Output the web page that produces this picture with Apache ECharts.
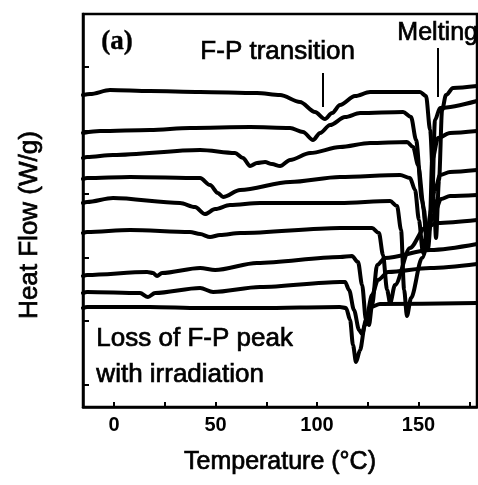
<!DOCTYPE html>
<html>
<head>
<meta charset="utf-8">
<title>DSC heat flow</title>
<script src="https://cdn.jsdelivr.net/npm/echarts@6/dist/echarts.min.js"></script>
<style>
  html, body { margin: 0; padding: 0; background: #fff; }
  #chart { width: 478px; height: 485px; }
</style>
</head>
<body>
<div id="chart"></div>
<script>
// DSC traces, [temperature (°C), heat flow (arb. W/g offset)], top to bottom
var curve1 = [[-15.3, 4.913], [-11.8, 4.929], [-2.0, 4.992], [17.7, 4.976], [42.4, 4.961], [70.4, 4.945],
  [81.8, 4.913], [91.6, 4.803], [99.0, 4.646], [103.9, 4.535], [107.4, 4.630], [111.3, 4.756], [118.7, 4.898],
  [126.1, 4.961], [150.7, 4.961], [153.7, 4.898], [155.7, 4.362], [157.6, 3.260], [158.6, 2.661],
  [160.1, 3.575], [161.6, 4.677], [163.5, 4.913], [167.0, 5.024], [178.8, 5.055]];
var curve2 = [[-15.3, 4.315], [-6.9, 4.346], [17.7, 4.362], [37.4, 4.394], [67.0, 4.409], [86.7, 4.394],
  [93.1, 4.331], [98.0, 4.205], [101.5, 4.315], [106.4, 4.441], [113.8, 4.567], [121.2, 4.630], [142.4, 4.646],
  [146.3, 4.567], [148.8, 4.205], [151.7, 3.260], [154.7, 2.504], [156.7, 3.260], [158.1, 4.520],
  [160.6, 4.709], [178.8, 4.819]];
var curve3 = [[-15.3, 3.921], [-13.3, 3.937], [-0.5, 3.969], [42.4, 4.047], [59.6, 4.000], [63.5, 3.921],
  [67.0, 3.795], [70.4, 3.843], [74.4, 3.858], [77.8, 3.827], [81.8, 3.795], [86.7, 3.890], [96.6, 4.000],
  [111.3, 4.094], [126.1, 4.157], [144.3, 4.173], [147.3, 4.094], [149.8, 3.811], [152.7, 3.102],
  [154.2, 2.472], [155.7, 3.024], [156.7, 3.890], [159.6, 4.236], [165.5, 4.315], [178.8, 4.346]];
var curve4 = [[-15.3, 3.591], [-13.3, 3.606], [7.9, 3.622], [42.4, 3.606], [47.3, 3.496], [51.2, 3.370],
  [53.7, 3.307], [62.1, 3.417], [86.7, 3.543], [111.3, 3.622], [140.9, 3.654], [145.8, 3.606], [148.3, 3.417],
  [150.2, 2.945], [152.2, 2.425], [154.2, 2.787], [158.1, 3.417], [160.6, 3.654], [165.5, 3.701], [178.8, 3.732]];
var curve5 = [[-15.3, 3.213], [-13.3, 3.228], [-0.5, 3.291], [32.5, 3.213], [39.9, 3.150], [44.8, 3.039],
  [49.8, 3.118], [57.1, 3.181], [71.9, 3.213], [111.3, 3.213], [136.0, 3.244], [139.4, 3.165], [141.4, 2.787],
  [142.9, 1.843], [144.3, 1.433], [146.3, 1.717], [151.7, 2.346], [157.6, 3.024], [161.1, 3.276],
  [165.5, 3.323], [178.8, 3.339]];
var curve6 = [[-15.3, 2.740], [-13.3, 2.756], [7.9, 2.787], [37.4, 2.756], [42.4, 2.724], [47.3, 2.677],
  [52.2, 2.709], [62.1, 2.740], [111.3, 2.819], [127.1, 2.819], [130.5, 2.740], [132.5, 2.394], [134.5, 1.843],
  [136.0, 1.638], [138.4, 1.921], [145.8, 2.504], [153.2, 2.819], [159.1, 2.898], [178.8, 2.945]];
var curve7 = [[-15.3, 2.063], [-13.3, 2.079], [16.3, 2.126], [19.2, 2.110], [21.2, 2.063], [23.6, 2.110],
  [42.4, 2.189], [49.8, 2.157], [70.4, 2.268], [111.3, 2.362], [117.2, 2.378], [120.2, 2.283], [122.2, 1.921],
  [124.1, 1.370], [125.6, 1.291], [127.1, 1.606], [129.6, 2.236], [133.5, 2.346], [155.7, 2.472], [178.8, 2.567]];
var curve8 = [[-15.3, 1.795], [-13.3, 1.811], [12.8, 1.795], [16.7, 1.732], [20.2, 1.795], [42.4, 1.874],
  [48.8, 1.811], [71.9, 1.890], [111.3, 1.969], [113.8, 1.969], [115.8, 1.843], [118.2, 1.528], [120.7, 1.213],
  [122.2, 1.150], [124.1, 1.370], [127.1, 1.764], [130.0, 2.000], [135.0, 2.126], [155.7, 2.189], [178.8, 2.252]];
var curve9 = [[-15.3, 1.559], [-13.3, 1.575], [17.7, 1.575], [42.4, 1.559], [71.9, 1.559], [111.3, 1.575],
  [114.3, 1.559], [116.3, 1.370], [117.7, 0.976], [119.2, 0.709], [121.2, 0.898], [123.6, 1.291], [126.6, 1.575],
  [131.0, 1.622], [178.8, 1.638]];

var curves = [curve1, curve2, curve3, curve4, curve5, curve6, curve7, curve8, curve9];

// axis ticks
var tempTicks = [0, 25, 50, 75, 100, 125, 150, 175];
var tempLabels = [0, 50, 100, 150];
var flowTicks = [0.354, 1.354, 2.354, 3.354, 4.354, 5.354];

// annotation arrows [[T, H], [T, H]]
var fpArrow = [[103.0, 5.260], [103.0, 4.724]];
var meltArrow = [[159.6, 5.654], [159.6, 4.882]];

var FONT = '"Liberation Sans", Arial, sans-serif';

// scanned look: slightly heavier glyphs
var ink = { fill: '#000', stroke: '#000', lineWidth: 0.7 };

var chart = echarts.init(document.getElementById('chart'), null, { renderer: 'canvas' });

var series = curves.map(function (c, i) {
    var s = {
        type: 'line',
        data: c,
        showSymbol: false,
        smooth: 0.3,
        smoothMonotone: 'x',
        silent: true,
        animation: false,
        lineStyle: { color: '#000', width: 4, cap: 'round', join: 'round' }
    };
    if (i === 0) {
        s.markLine = {
            silent: true,
            symbol: 'none',
            animation: false,
            label: { show: false },
            lineStyle: { color: '#000', width: 2, type: 'solid' },
            data: [
                [{ coord: fpArrow[0] }, { coord: fpArrow[1] }],
                [{ coord: meltArrow[0] }, { coord: meltArrow[1] }]
            ]
        };
    }
    return s;
});

var txt = function (text, font, extra) {
    return echarts.util.extend({ text: text, font: font }, echarts.util.extend(echarts.util.extend({}, ink), extra || {}));
};

chart.setOption({
    animation: false,
    backgroundColor: '#fff',
    grid: {
        left: 83, right: 1, top: 14, bottom: 78,
        show: true, borderColor: '#000', borderWidth: 2.5
    },
    xAxis: {
        type: 'value',
        min: -15.3,
        max: 178.8,
        name: 'Temperature (°C)',
        nameLocation: 'middle',
        nameGap: 43,
        nameTextStyle: { fontFamily: FONT, fontSize: 25, color: '#000', textBorderColor: '#000', textBorderWidth: 0.7 },
        axisLine: { onZero: false, lineStyle: { color: '#000', width: 2.5 } },
        axisTick: { inside: true, length: 5, customValues: tempTicks, lineStyle: { color: '#000', width: 2 } },
        axisLabel: { customValues: tempLabels, margin: 8, fontFamily: FONT, fontSize: 20, fontWeight: 'bold', color: '#000' },
        splitLine: { show: false }
    },
    yAxis: {
        type: 'value',
        min: 0,
        max: 6.19,
        axisLine: { show: true, onZero: false, lineStyle: { color: '#000', width: 2.5 } },
        axisTick: { show: true, inside: true, length: 6, customValues: flowTicks, lineStyle: { color: '#000', width: 2 } },
        axisLabel: { show: false },
        splitLine: { show: false }
    },
    graphic: [
        { type: 'text', left: 101, top: 28, style: txt('(a)', 'bold 27px "Liberation Serif", serif', { lineWidth: 0.4 }) },
        { type: 'text', left: 200, top: 38, style: txt('F-P transition', '26px ' + FONT) },
        { type: 'text', left: 397, top: 20, style: txt('Melting', '25px ' + FONT) },
        { type: 'text', left: 96, top: 321, style: txt('Loss of F-P peak\nwith irradiation', '26px ' + FONT, { lineHeight: 36 }) },
        { type: 'text', x: 30, y: 225, rotation: Math.PI / 2,
          style: txt('Heat Flow (W/g)', '26px ' + FONT, { align: 'center', verticalAlign: 'middle' }) }
    ],
    series: series
});
</script>
</body>
</html>
